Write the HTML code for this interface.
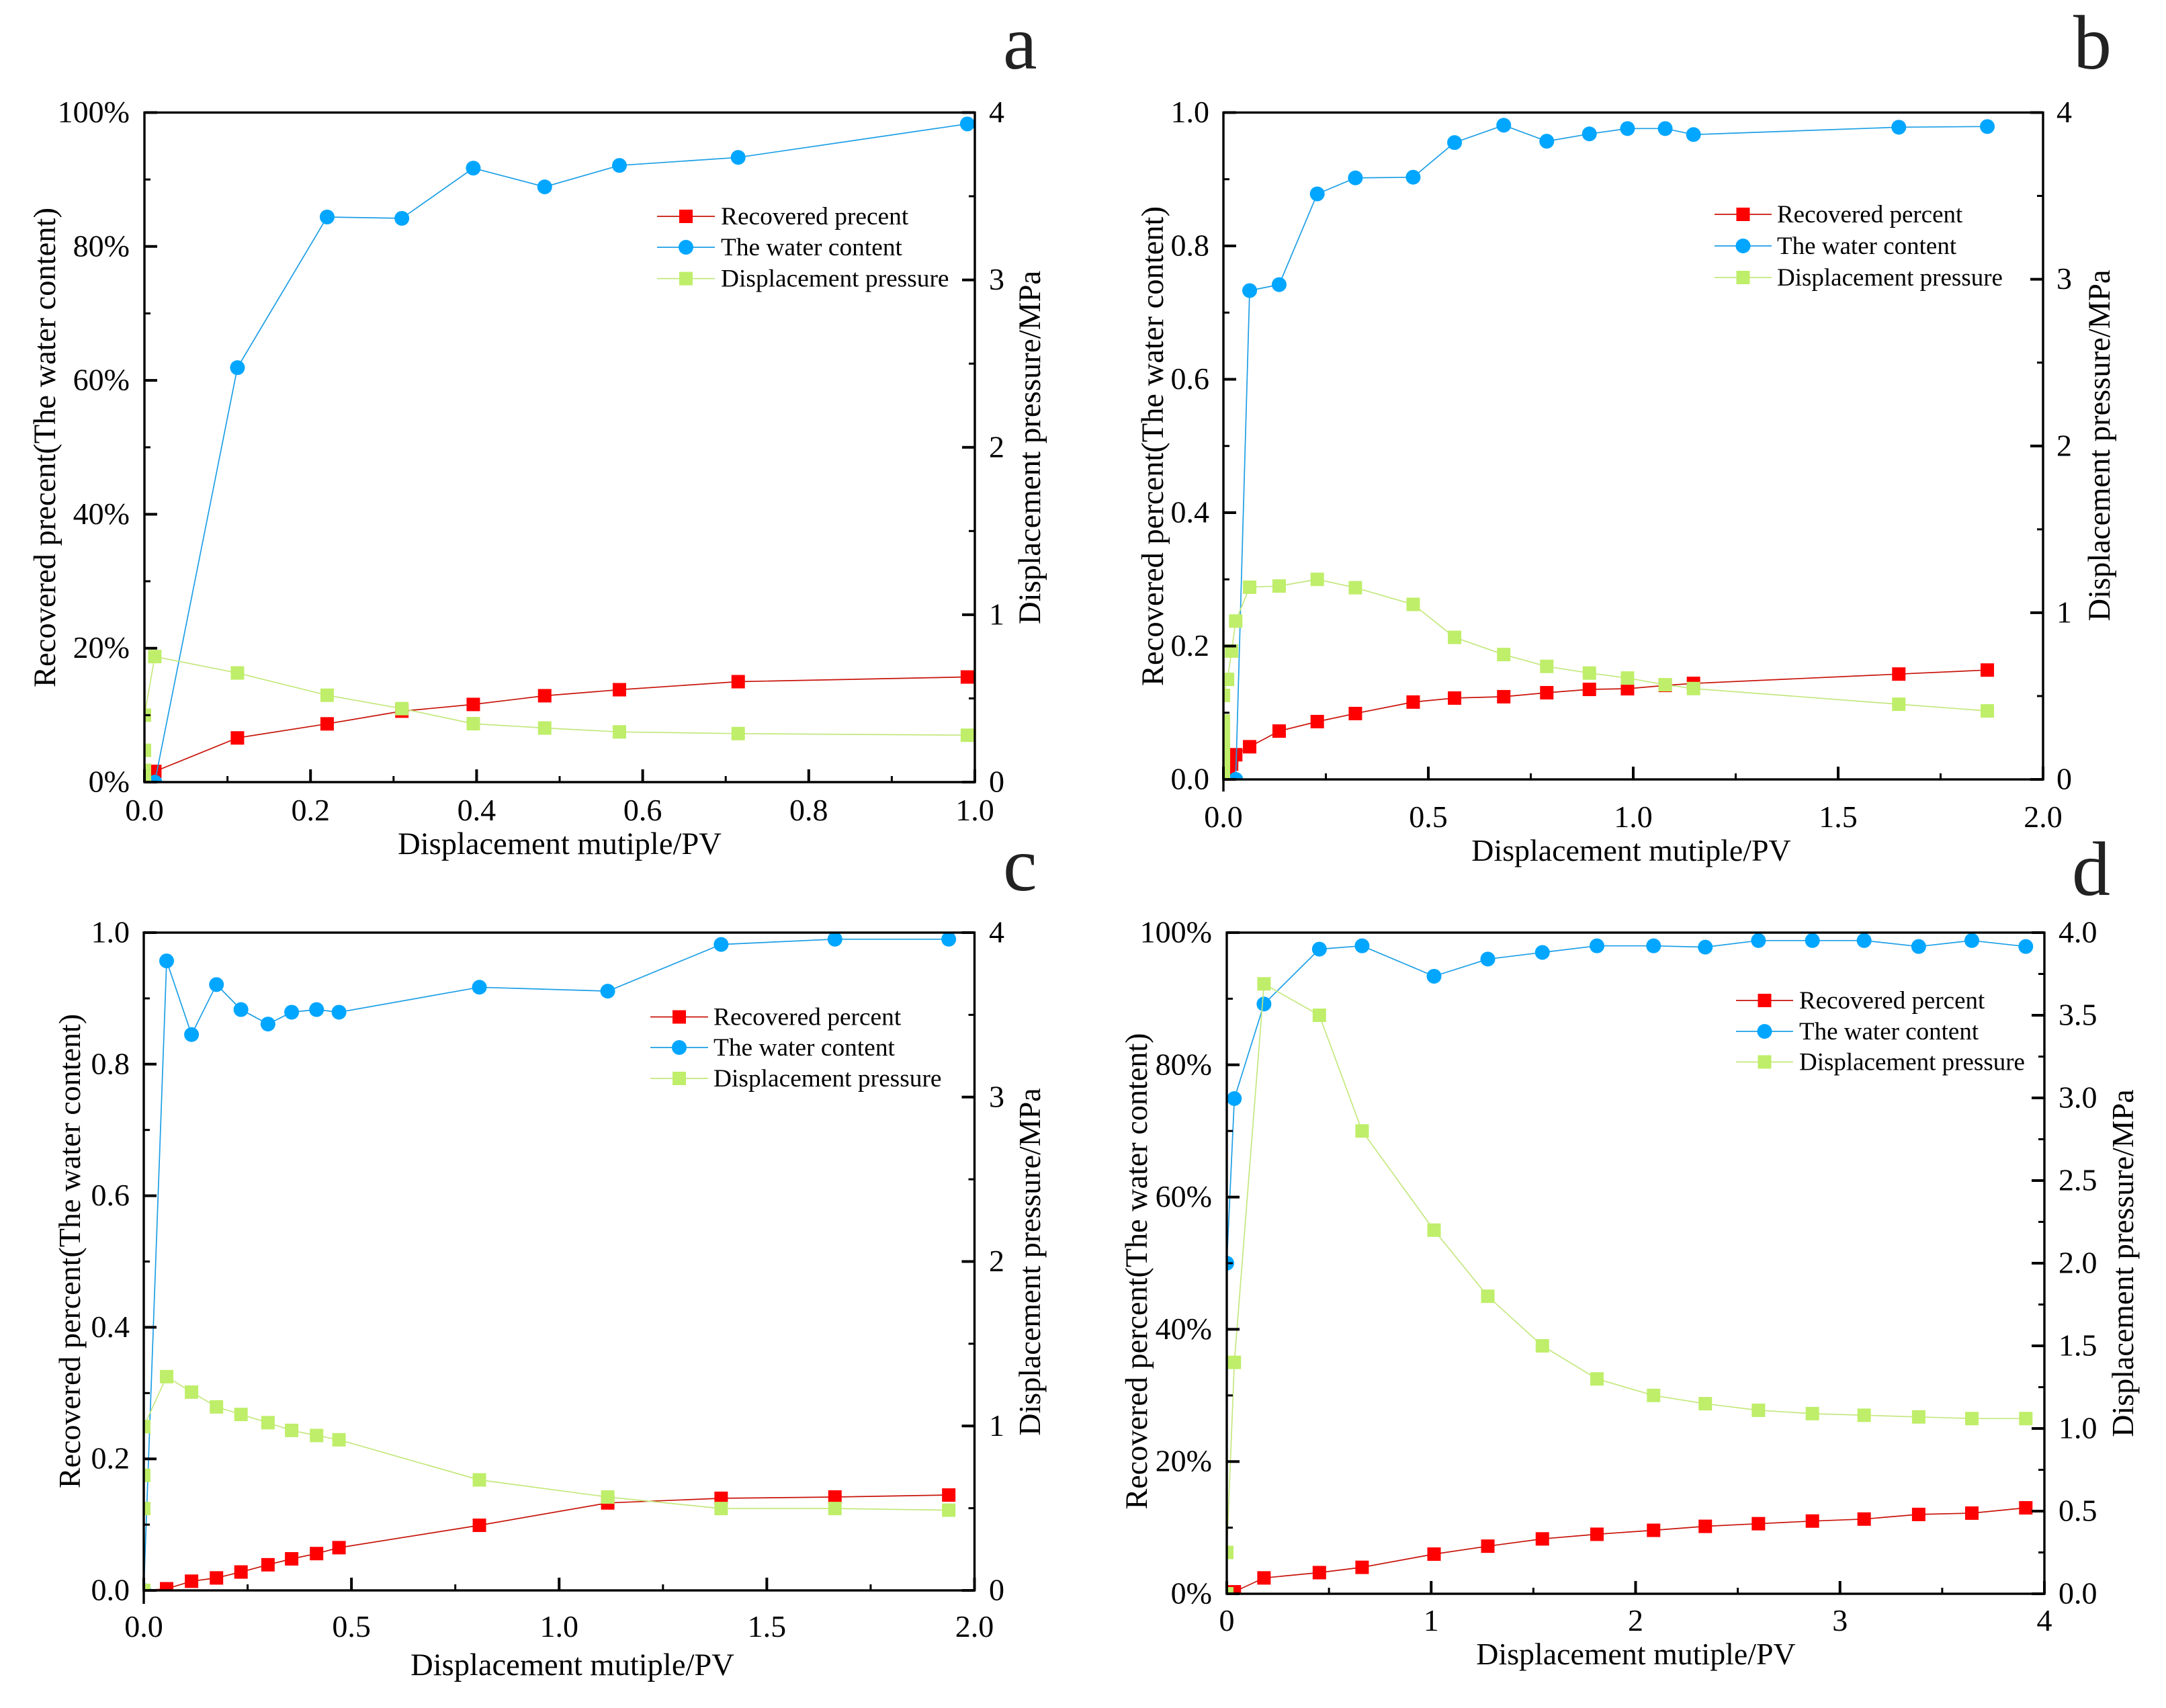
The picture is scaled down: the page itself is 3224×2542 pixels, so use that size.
<!DOCTYPE html>
<html>
<head>
<meta charset="utf-8">
<title>Displacement charts</title>
<style>
html,body{margin:0;padding:0;background:#fff;}
svg{display:block;}
text{font-family:"Liberation Serif",serif;fill:#000;}
</style>
</head>
<body>
<svg id="figure" xmlns="http://www.w3.org/2000/svg" width="3224" height="2542" viewBox="0 0 3224 2542"></svg>
<script>
// ---------- Panel a data ----------
const aRecX = [0.0125,0.112,0.22,0.31,0.396,0.482,0.572,0.715,0.991];
const aRecY = [0.016,0.066,0.087,0.106,0.116,0.129,0.138,0.15,0.157];
const aWatX = [0.0125,0.112,0.22,0.31,0.396,0.482,0.572,0.715,0.991];
const aWatY = [0,0.619,0.844,0.842,0.917,0.889,0.921,0.933,0.983];
const aPreX = [0,0,0,0,0.0125,0.112,0.22,0.31,0.396,0.482,0.572,0.715,0.991];
const aPreY = [0,0.07,0.19,0.4,0.75,0.652,0.519,0.439,0.349,0.323,0.3,0.29,0.28];
const aXTicks = ["0.0","0.2","0.4","0.6","0.8","1.0"];
const aYTicks = ["0%","20%","40%","60%","80%","100%"];
const aRTicks = ["0","1","2","3","4"];
// ---------- Panel b data ----------
const bRecX = [0,0.004,0.012,0.02,0.03,0.064,0.136,0.229,0.322,0.463,0.564,0.684,0.789,0.893,0.986,1.078,1.147,1.648,1.864];
const bRecY = [0,0.006,0.014,0.023,0.037,0.049,0.0725,0.0867,0.0988,0.116,0.122,0.124,0.13,0.135,0.136,0.141,0.144,0.158,0.164];
const bWatX = [0.03,0.064,0.136,0.229,0.322,0.463,0.564,0.684,0.789,0.893,0.986,1.078,1.147,1.648,1.864];
const bWatY = [0,0.733,0.742,0.878,0.902,0.903,0.955,0.981,0.957,0.968,0.976,0.976,0.967,0.978,0.979];
const bPreX = [0,0,0,0,0,0,0,0,0,0.01,0.02,0.03,0.064,0.136,0.229,0.322,0.463,0.564,0.684,0.789,0.893,0.986,1.078,1.147,1.648,1.864];
const bPreY = [0,0.05,0.1,0.15,0.2,0.25,0.3,0.35,0.504,0.6,0.77,0.95,1.153,1.16,1.2,1.15,1.05,0.852,0.749,0.678,0.638,0.608,0.568,0.545,0.451,0.411];
const bXTicks = ["0.0","0.5","1.0","1.5","2.0"];
const bYTicks = ["0.0","0.2","0.4","0.6","0.8","1.0"];
const bRTicks = ["0","1","2","3","4"];
// ---------- Panel c data ----------
const cRecX = [0,0.055,0.115,0.175,0.234,0.299,0.356,0.416,0.47,0.808,1.117,1.39,1.664,1.938];
const cRecY = [0,0.0025,0.014,0.019,0.028,0.039,0.048,0.056,0.065,0.099,0.133,0.14,0.142,0.145];
const cWatX = [0,0.055,0.115,0.175,0.234,0.299,0.356,0.416,0.47,0.808,1.117,1.39,1.664,1.938];
const cWatY = [0,0.957,0.845,0.921,0.883,0.861,0.879,0.883,0.879,0.917,0.911,0.982,0.99,0.99];
const cPreX = [0,0,0,0,0.055,0.115,0.175,0.234,0.299,0.356,0.416,0.47,0.808,1.117,1.39,1.664,1.938];
const cPreY = [0,0.498,0.7,0.996,1.3,1.206,1.116,1.07,1.02,0.973,0.942,0.916,0.672,0.568,0.498,0.498,0.488];
const cXTicks = ["0.0","0.5","1.0","1.5","2.0"];
const cYTicks = ["0.0","0.2","0.4","0.6","0.8","1.0"];
const cRTicks = ["0","1","2","3","4"];
// ---------- Panel d data ----------
const dRecX = [0,0.037,0.182,0.453,0.662,1.014,1.277,1.544,1.811,2.088,2.341,2.601,2.865,3.118,3.385,3.645,3.909];
const dRecY = [0,0.003,0.024,0.032,0.04,0.06,0.072,0.083,0.09,0.096,0.102,0.106,0.11,0.113,0.12,0.122,0.13];
const dWatX = [0,0.037,0.182,0.453,0.662,1.014,1.277,1.544,1.811,2.088,2.341,2.601,2.865,3.118,3.385,3.645,3.909];
const dWatY = [0.5,0.749,0.892,0.975,0.98,0.934,0.96,0.97,0.98,0.98,0.978,0.988,0.988,0.988,0.979,0.988,0.979];
const dPreX = [0,0,0.037,0.182,0.453,0.662,1.014,1.277,1.544,1.811,2.088,2.341,2.601,2.865,3.118,3.385,3.645,3.909];
const dPreY = [0,0.25,1.4,3.69,3.5,2.8,2.2,1.8,1.5,1.3,1.2,1.15,1.11,1.09,1.08,1.07,1.06,1.06];
const dXTicks = ["0","1","2","3","4"];
const dYTicks = ["0%","20%","40%","60%","80%","100%"];
const dRTicks = ["0.0","0.5","1.0","1.5","2.0","2.5","3.0","3.5","4.0"];

const NS = "http://www.w3.org/2000/svg";
const root = document.getElementById("figure");

function mk(parent, tag, name, attrs, txt){
  const el = document.createElementNS(NS, tag);
  
  
  for (const k in attrs) el.setAttribute(k, attrs[k]);
  if (txt !== undefined) el.textContent = txt;
  parent.appendChild(el);
  return el;
}

const COL = {rec:"#ff0000", recL:"#c8140a", wat:"#00a6ff", watL:"#1c9fe6", pre:"#bfee6a", preL:"#c4e87e"};
const FS = 46;

function drawSeries(g, sx, sy, xs, ys, lineCol, col, kind, key){
  const pts = xs.map((x,i)=>sx(x).toFixed(1)+","+sy(ys[i]).toFixed(1)).join(" ");
  mk(g, "polyline", key+"-line", {points:pts, fill:"none", stroke:lineCol, "stroke-width":1.7});
  xs.forEach((x,i)=>{
    if (kind === "circle") {
      mk(g, "circle", key+"-point", {cx:sx(x), cy:sy(ys[i]), r:11, fill:col});
    } else {
      mk(g, "rect", key+"-point", {x:sx(x)-10, y:sy(ys[i])-10, width:20, height:20, fill:col});
    }
  });
}

function panel(c){
  const g = mk(root, "g", "panel-"+c.id, {});
  const L=c.l,R=c.r,T=c.t,B=c.b;
  const sx = v => L+(v/c.xMax)*(R-L);
  const syL = v => B-v*(B-T);
  const syR = v => B-(v/4)*(B-T);
  const clipId = "clip-"+c.id;
  const defs = mk(g, "defs", "clip-defs", {});
  const cp = mk(defs, "clipPath", "plot-clip", {id:clipId});
  mk(cp, "rect", "plot-clip-rect", {x:L,y:T,width:R-L,height:B-T});
  const plot = mk(g, "g", "plot-area", {"clip-path":"url(#"+clipId+")"});
  drawSeries(plot, sx, syL, c.recX, c.recY, COL.recL, COL.rec, "rect", "recovered-percent");
  drawSeries(plot, sx, syL, c.watX, c.watY, COL.watL, COL.wat, "circle", "water-content");
  drawSeries(plot, sx, syR, c.preX, c.preY, COL.preL, COL.pre, "rect", "displacement-pressure");

  // frame
  mk(g, "rect", "plot-frame", {x:L,y:T,width:R-L,height:B-T,fill:"none",stroke:"#000","stroke-width":3.4});
  if (c.leftExt) mk(g, "line", "left-axis-extension", {x1:L,x2:L,y1:B,y2:B+c.leftExt,stroke:"#000","stroke-width":3.4});

  // x ticks
  const nx = c.xTicks.length-1;
  for (let i=0;i<=nx*2;i++){
    const v = c.xMax*i/(nx*2);
    const major = i%2===0;
    mk(g, "line", "x-tick", {x1:sx(v),x2:sx(v),y1:B,y2:B-(major?19:9),stroke:"#000","stroke-width":major?4:3});
  }
  c.xTicks.forEach((t,i)=>{
    mk(g, "text", "x-tick-label", {x:sx(c.xMax*i/nx),y:c.xTickY,"text-anchor":"middle","font-size":FS}, t);
  });
  // left ticks
  const ny = c.yTicks.length-1;
  for (let i=0;i<=ny*2;i++){
    const v = i/(ny*2);
    const major = i%2===0;
    mk(g, "line", "left-y-tick", {x1:L,x2:L+(major?19:9),y1:syL(v),y2:syL(v),stroke:"#000","stroke-width":major?4:3});
  }
  c.yTicks.forEach((t,i)=>{
    mk(g, "text", "left-y-tick-label", {x:c.yLabX,y:syL(i/ny)+14.5,"text-anchor":"end","font-size":FS}, t);
  });
  // right ticks
  const nr = c.rTicks.length-1;
  for (let i=0;i<=nr*2;i++){
    const v = 4*i/(nr*2);
    const major = i%2===0;
    mk(g, "line", "right-y-tick", {x1:R,x2:R-(major?19:9),y1:syR(v),y2:syR(v),stroke:"#000","stroke-width":major?4:3});
  }
  c.rTicks.forEach((t,i)=>{
    mk(g, "text", "right-y-tick-label", {x:c.rLabX,y:syR(4*i/nr)+14.5,"text-anchor":"start","font-size":FS}, t);
  });
  // titles
  mk(g, "text", "x-axis-title", {x:c.xTitleX,y:c.xTitleY,"text-anchor":"middle","font-size":c.xFs}, "Displacement mutiple/PV");
  mk(g, "text", "left-y-axis-title", {transform:"translate("+c.yTitleX+","+c.yTitleY+") rotate(-90)","text-anchor":"middle","font-size":c.yFs}, c.yTitle);
  mk(g, "text", "right-y-axis-title", {transform:"translate("+c.rTitleX+","+c.rTitleY+") rotate(-90)","text-anchor":"middle","font-size":c.rFs}, "Displacement pressure/MPa");
  // panel letter
  const letter = mk(g, "text", "panel-letter", {x:c.letterX,y:c.letterY,"font-size":114}, c.id);
  letter.style.fill = "#222";
  // legend
  const lg = mk(g, "g", "legend", {});
  const mid = (c.legL+c.legR)/2;
  const rows = [
    [c.legName, COL.recL, COL.rec, "rect", c.legY[0]],
    ["The water content", COL.watL, COL.wat, "circle", c.legY[1]],
    ["Displacement pressure", COL.preL, COL.pre, "rect", c.legY[2]]
  ];
  rows.forEach(r=>{
    const e = mk(lg, "g", "legend-entry", {});
    mk(e, "line", "legend-line", {x1:c.legL,x2:c.legR,y1:r[4],y2:r[4],stroke:r[1],"stroke-width":1.7});
    if (r[3]==="circle") mk(e, "circle", "legend-marker", {cx:mid,cy:r[4],r:11,fill:r[2]});
    else mk(e, "rect", "legend-marker", {x:mid-10,y:r[4]-10,width:20,height:20,fill:r[2]});
    mk(e, "text", "legend-label", {x:c.legT,y:r[4]+12,"font-size":c.legFs}, r[0]);
  });
}

panel({id:"a",l:215,r:1451,t:167.5,b:1164,xMax:1,
  recX:aRecX,recY:aRecY,watX:aWatX,watY:aWatY,preX:aPreX,preY:aPreY,
  xTicks:aXTicks,yTicks:aYTicks,rTicks:aRTicks,
  xTickY:1221,yLabX:193,rLabX:1472,
  xTitleX:833,xTitleY:1271,yTitleX:82,yTitleY:666,rTitleX:1548,rTitleY:666,
  xFs:46.5,yFs:46.5,rFs:46.8,
  yTitle:"Recovered precent(The water content)",letterX:1493,letterY:102,
  legName:"Recovered precent",legL:978,legR:1064,legT:1073,legY:[322,368,414.6],legFs:37.4});
panel({id:"b",l:1821,r:3041,t:167.5,b:1160,xMax:2,leftExt:18,
  recX:bRecX,recY:bRecY,watX:bWatX,watY:bWatY,preX:bPreX,preY:bPreY,
  xTicks:bXTicks,yTicks:bYTicks,rTicks:bRTicks,
  xTickY:1231,yLabX:1800,rLabX:3061,
  xTitleX:2428,xTitleY:1281,yTitleX:1731,yTitleY:664,rTitleX:3140,rTitleY:663,
  xFs:45.9,yFs:46.5,rFs:46.5,
  yTitle:"Recovered percent(The water content)",letterX:3086,letterY:102,
  legName:"Recovered percent",legL:2552,legR:2637,legT:2645,legY:[319,366,413],legFs:37});
panel({id:"c",l:214,r:1450.5,t:1388,b:2367,xMax:2,leftExt:20,
  recX:cRecX,recY:cRecY,watX:cWatX,watY:cWatY,preX:cPreX,preY:cPreY,
  xTicks:cXTicks,yTicks:cYTicks,rTicks:cRTicks,
  xTickY:2436,yLabX:193,rLabX:1472,
  xTitleX:852,xTitleY:2493,yTitleX:119,yTitleY:1862,rTitleX:1548,rTitleY:1878,
  xFs:46.5,yFs:46,rFs:46,
  yTitle:"Recovered percent(The water content)",letterX:1493,letterY:1325,
  legName:"Recovered percent",legL:968,legR:1054,legT:1062,legY:[1513.5,1559,1605],legFs:37.4});
panel({id:"d",l:1826,r:3043,t:1388,b:2372,xMax:4,
  recX:dRecX,recY:dRecY,watX:dWatX,watY:dWatY,preX:dPreX,preY:dPreY,
  xTicks:dXTicks,yTicks:dYTicks,rTicks:dRTicks,
  xTickY:2427,yLabX:1804,rLabX:3064,
  xTitleX:2435,xTitleY:2477,yTitleX:1707,yTitleY:1892,rTitleX:3175,rTitleY:1880,
  xFs:45.9,yFs:46.2,rFs:46,
  yTitle:"Recovered percent(The water content)",letterX:3084,letterY:1332,
  legName:"Recovered percent",legL:2584,legR:2669,legT:2678,legY:[1489,1535,1580.5],legFs:37});
</script>
</body>
</html>
